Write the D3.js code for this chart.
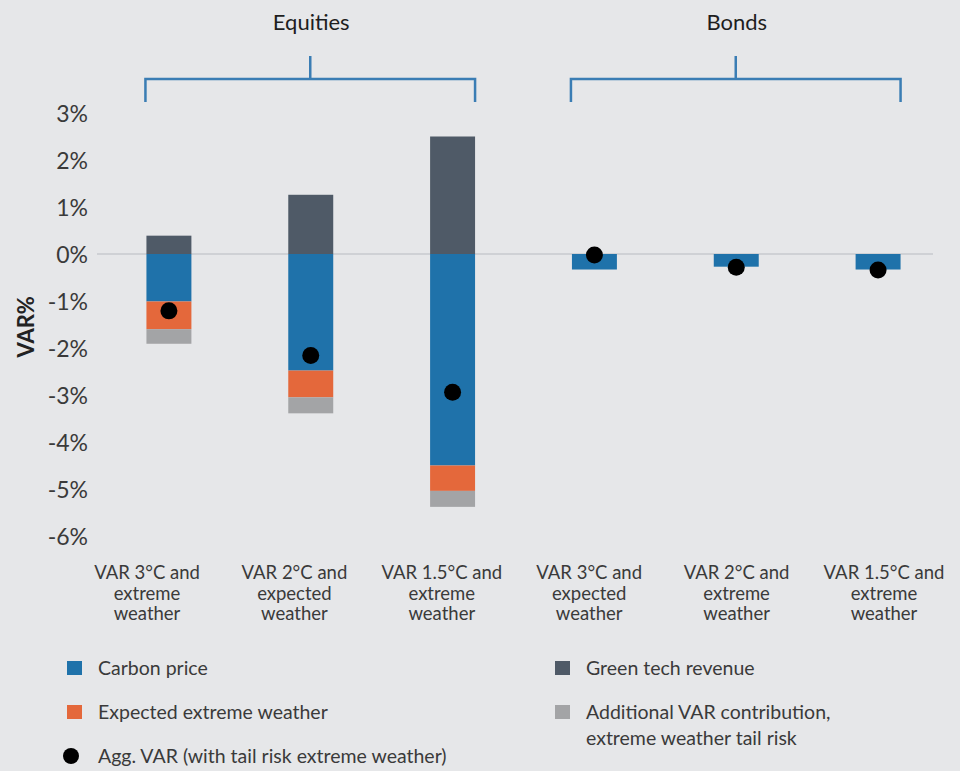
<!DOCTYPE html>
<html>
<head>
<meta charset="utf-8">
<script src="https://cdn.jsdelivr.net/npm/d3@7"></script>
<style>
  html, body { margin: 0; padding: 0; background: #e6e7e9; }
  svg { display: block; font-family: Lato, "Noto Sans", sans-serif; }
</style>
</head>
<body>
<svg id="chart" width="960" height="771"></svg>
<script>
// ---- data ----
const categories = ["eq3", "eq2", "eq15", "bd3", "bd2", "bd15"];
const categoryLabels = [
  ["VAR 3\u00B0C and", "extreme", "weather"],
  ["VAR 2\u00B0C and", "expected", "weather"],
  ["VAR 1.5\u00B0C and", "extreme", "weather"],
  ["VAR 3\u00B0C and", "expected", "weather"],
  ["VAR 2\u00B0C and", "extreme", "weather"],
  ["VAR 1.5\u00B0C and", "extreme", "weather"]
];
const carbonPrice      = [-1.01, -2.48, -4.50, -0.33, -0.27, -0.33];
const expectedWeather  = [-0.59, -0.57, -0.54, 0, 0, 0];
const tailRisk         = [-0.31, -0.34, -0.34, 0, 0, 0];
const greenTech        = [0.39, 1.26, 2.50, 0, 0, 0];
const aggVar           = [-1.21, -2.16, -2.94, -0.02, -0.28, -0.34];
const yTicks = [3, 2, 1, 0, -1, -2, -3, -4, -5, -6];
const groups = [
  { name: "Equities", members: ["eq3", "eq2", "eq15"] },
  { name: "Bonds", members: ["bd3", "bd2", "bd15"] }
];
const seriesKeys   = ["carbon", "green", "expected", "tail"];
const seriesNames  = ["Carbon price", "Green tech revenue", "Expected extreme weather",
                      ["Additional VAR contribution,", "extreme weather tail risk"]];
const seriesColors = ["#1f72aa", "#4f5a67", "#e4683b", "#a3a4a6"];
const aggName = "Agg. VAR (with tail risk extreme weather)";

// ---- build ----
const svg = d3.select("#chart");
const rows = categories.map((c, i) => ({
  cat: c, carbon: carbonPrice[i], green: greenTech[i],
  expected: expectedWeather[i], tail: tailRisk[i]
}));
const stacked = d3.stack().keys(seriesKeys).offset(d3.stackOffsetDiverging)(rows);
const color = d3.scaleOrdinal().domain(seriesKeys).range(seriesColors);

const x = d3.scaleBand().domain(categories).range([98, 949])
  .paddingInner(0.683).paddingOuter(0.3415);
const xLabel = d3.scalePoint().domain(categories).range([147, 884]);
const y = d3.scaleLinear().domain([-6, 3]).range([536, 113]);

// zero line
svg.append("line")
  .attr("x1", 97).attr("x2", 933)
  .attr("y1", y(0)).attr("y2", y(0))
  .attr("stroke", "#b7bbc1").attr("stroke-width", 1.2);

// y axis labels
const yAxis = d3.axisLeft(y).tickValues(yTicks).tickSize(0).tickPadding(0)
  .tickFormat(d => (d < 0 ? "-" + Math.abs(d) : d) + "%");
const yg = svg.append("g").attr("transform", "translate(88,0)").call(yAxis);
yg.select(".domain").remove();
yg.selectAll("text").attr("font-size", 23).attr("fill", "#3a3a3a")
  .attr("font-family", "Lato, sans-serif").attr("dy", "0.36em");

svg.append("text")
  .attr("transform", `translate(34,${y(-1.55)}) rotate(-90)`)
  .attr("text-anchor", "middle")
  .attr("font-size", 22).attr("font-weight", 700).attr("fill", "#222")
  .text("VAR%");

// bars
svg.append("g").selectAll("g").data(stacked).join("g")
  .attr("fill", d => color(d.key))
  .selectAll("rect").data(d => d).join("rect")
  .attr("x", d => x(d.data.cat))
  .attr("width", x.bandwidth())
  .attr("y", d => y(Math.max(d[0], d[1])))
  .attr("height", d => Math.abs(y(d[0]) - y(d[1])));

// agg dots
svg.append("g").selectAll("circle").data(categories).join("circle")
  .attr("cx", d => x(d) + x.bandwidth() / 2)
  .attr("cy", (d, i) => y(aggVar[i]))
  .attr("r", 8.5).attr("fill", "#000");

// x labels (one text per line)
const xlg = svg.append("g");
categories.forEach((c, i) => {
  categoryLabels[i].forEach((ln, j) => {
    xlg.append("text")
      .attr("x", xLabel(c)).attr("y", 579 + j * 20.5)
      .attr("text-anchor", "middle").attr("font-size", 18.5).attr("fill", "#3a3a3a")
      .text(ln);
  });
});

// group brackets
groups.forEach(g => {
  const x0 = x(g.members[0]) - 1;
  const x1 = x(g.members[g.members.length - 1]) + x.bandwidth();
  const xm = (x0 + x1) / 2;
  const yb = 79;
  svg.append("path")
    .attr("d", `M${x0},102 V${yb} H${x1} V102 M${xm},${yb} V56`)
    .attr("fill", "none").attr("stroke", "#3a7db4").attr("stroke-width", 2.5);
  svg.append("text")
    .attr("x", xm + 1).attr("y", 30)
    .attr("text-anchor", "middle").attr("font-size", 22).attr("fill", "#1e1e1e")
    .text(g.name);
});

// legend
const legendItems = [
  { key: "carbon", x: 67, y: 661 },
  { key: "green", x: 555, y: 661 },
  { key: "expected", x: 67, y: 705 },
  { key: "tail", x: 555, y: 705 }
];
const lg = svg.append("g");
legendItems.forEach(it => {
  const idx = seriesKeys.indexOf(it.key);
  lg.append("rect").attr("x", it.x).attr("y", it.y)
    .attr("width", 15).attr("height", 14).attr("fill", color(it.key));
  const name = seriesNames[idx];
  const lines = Array.isArray(name) ? name : [name];
  lines.forEach((ln, j) => {
    lg.append("text").attr("x", it.x + 31).attr("y", it.y + 14 + j * 26)
      .attr("font-size", 19.5).attr("fill", "#3a3a3a").text(ln);
  });
});
lg.append("circle").attr("cx", 71).attr("cy", 756).attr("r", 8).attr("fill", "#000");
lg.append("text").attr("x", 98).attr("y", 763)
  .attr("font-size", 19.5).attr("fill", "#3a3a3a").text(aggName);
</script>
</body>
</html>
